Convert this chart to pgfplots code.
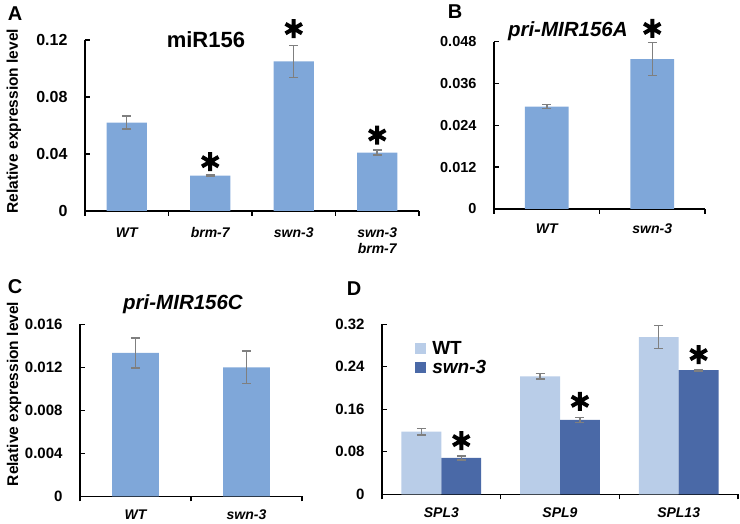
\documentclass[border=0pt]{standalone}
\usepackage{fontspec}
\setmainfont{Liberation Sans}
\usepackage{pgfplots}
\pgfplotsset{compat=1.18}

\definecolor{barblue}{HTML}{7FA7D9}
\definecolor{wtblue}{HTML}{B9CDE8}
\definecolor{swnblue}{HTML}{4A69A7}
\definecolor{errgray}{HTML}{7F7F7F}

\pgfplotsset{
  panel/.style={
    scale only axis,
    axis lines*=left,
    axis line style={line width=1.4pt, black},
    every tick/.style={line width=1.4pt, black},
    every y tick/.append style={xshift=5pt},
    tick align=outside,
    major tick length=5pt,
    enlargelimits=false,
    ymin=0,
    clip=false,
    scaled y ticks=false,
    x tick label as interval,
    xticklabel style={font=\fontsize{14}{16.5}\selectfont\bfseries\itshape, align=center, yshift=-8pt},
    yticklabel style={font=\fontsize{15}{18}\selectfont\bfseries, xshift=-9pt},
    /pgf/number format/fixed,
    /pgf/number format/precision=3,
    /pgf/number format/assume math mode=true,
    ylabel style={font=\fontsize{15.5}{18}\selectfont\bfseries},
  },
  bars/.style={ybar, bar shift=0pt, draw=none, line width=1.5pt,
    error bars/y dir=both, error bars/y explicit,
    error bars/error bar style={line width=1.5pt, draw=errgray},
    error bars/error mark options={rotate=90, line width=1.5pt, draw=errgray, mark size=4.5pt}},
  star/.style={only marks, mark=asterisk, mark size=9.5pt,
    mark options={line width=4pt, draw=black}, forget plot},
}
\tikzset{
  ttl/.style={font=\fontsize{22}{26}\selectfont\bfseries},
  ttli/.style={font=\fontsize{20.5}{24}\selectfont\bfseries\itshape},
  lettr/.style={font=\fontsize{20}{24}\selectfont\bfseries},
}

\begin{document}
\begin{tikzpicture}
\useasboundingbox (0,0) rectangle (740pt,524pt);

% A: miR156
\begin{axis}[panel, at={(85pt,313pt)}, anchor=south west,
  width=334pt, height=171pt,
  xmin=-0.5, xmax=3.5, ymax=0.12,
  xtick={-0.5,0.5,1.5,2.5,3.5},
  xticklabels={WT,brm-7,swn-3,{swn-3\\brm-7}},
  ytick={0,0.04,0.08,0.12},
  yticklabel style={font=\fontsize{16}{18}\selectfont\bfseries},
  ylabel={Relative expression level},
  ylabel style={at={(axis description cs:-0.2126,0.526)}, anchor=center},
]
\addplot[bars, bar width=0.48, fill=barblue]
  coordinates {(0,0.062) +- (0,0.0045) (1,0.0248) +- (0,0.0005)
               (2,0.105) +- (0,0.0112) (3,0.041) +- (0,0.0018)};
\addplot[star] coordinates {(1,0.0346) (2,0.128) (3,0.0533)};
\node[ttl] at (rel axis cs:0.362,1.0) {miR156};
\end{axis}

% B: pri-MIR156A
\begin{axis}[panel, at={(494pt,315pt)}, anchor=south west,
  width=211pt, height=167.3pt,
  xmin=-0.5, xmax=1.5, ymax=0.048,
  xtick={-0.5,0.5,1.5},
  xticklabels={WT,swn-3},
  ytick={0,0.012,0.024,0.036,0.048},
  yticklabel style={font=\fontsize{14.5}{17}\selectfont\bfseries},
  xticklabel style={yshift=2pt},
]
\addplot[bars, bar width=0.417, fill=barblue]
  coordinates {(0,0.0294) +- (0,0.0006) (1,0.043) +- (0,0.0047)};
\addplot[star] coordinates {(1,0.0518)};
\node[ttli] at (rel axis cs:0.35,1.064) {pri-MIR156A};
\end{axis}

% C: pri-MIR156C
\begin{axis}[panel, at={(80pt,27.7pt)}, anchor=south west,
  width=222pt, height=172pt,
  xmin=-0.5, xmax=1.5, ymax=0.016,
  xtick={-0.5,0.5,1.5},
  xticklabels={WT,swn-3},
  xticklabel style={yshift=3pt},
  ytick={0,0.004,0.008,0.012,0.016},
  ylabel={Relative expression level},
  ylabel style={at={(axis description cs:-0.297,0.595)}, anchor=center},
]
\addplot[bars, bar width=0.42, fill=barblue]
  coordinates {(0,0.01333) +- (0,0.0014) (1,0.0120) +- (0,0.0015)};
\node[ttli] at (rel axis cs:0.464,1.118) {pri-MIR156C};
\end{axis}

% D: SPL genes (WT bars left of centre, swn-3 bars right of centre)
\begin{axis}[panel, at={(382pt,29.7pt)}, anchor=south west,
  width=356pt, height=170pt,
  xmin=-0.5, xmax=2.5, ymax=0.32,
  xtick={-0.5,0.5,1.5,2.5},
  xticklabels={SPL3,SPL9,SPL13},
  xticklabel style={yshift=3pt},
  ytick={0,0.08,0.16,0.24,0.32},
  legend cell align=left,
  legend style={at={(axis description cs:0.093,0.905)}, anchor=north west,
    draw=none, fill=none, inner sep=0pt, row sep=2pt,
    nodes={inner sep=1pt},
    /tikz/every odd column/.style={column sep=5pt},
    font=\fontsize{19}{22}\selectfont\bfseries},
  legend image code/.code={\fill[#1] (0pt,-5.5pt) rectangle (11pt,5.5pt);},
]
\addplot[bars, bar width=0.336, fill=wtblue]
  coordinates {(-0.168,0.118) +- (0,0.006) (0.832,0.222) +- (0,0.005) (1.832,0.296) +- (0,0.022)};
\addplot[bars, bar width=0.336, fill=swnblue]
  coordinates {(0.168,0.0685) +- (0,0.004) (1.168,0.140) +- (0,0.005) (2.168,0.2335) +- (0,0.0015)};
\addplot[star] coordinates {(0.168,0.101) (1.168,0.175) (2.168,0.263)};
\legend{WT,\textit{swn-3}}
\end{axis}

\node[lettr] at (15pt,510.5pt) {A};
\node[lettr] at (455pt,512pt) {B};
\node[lettr] at (15pt,237pt) {C};
\node[lettr] at (354pt,235pt) {D};
\end{tikzpicture}
\end{document}
